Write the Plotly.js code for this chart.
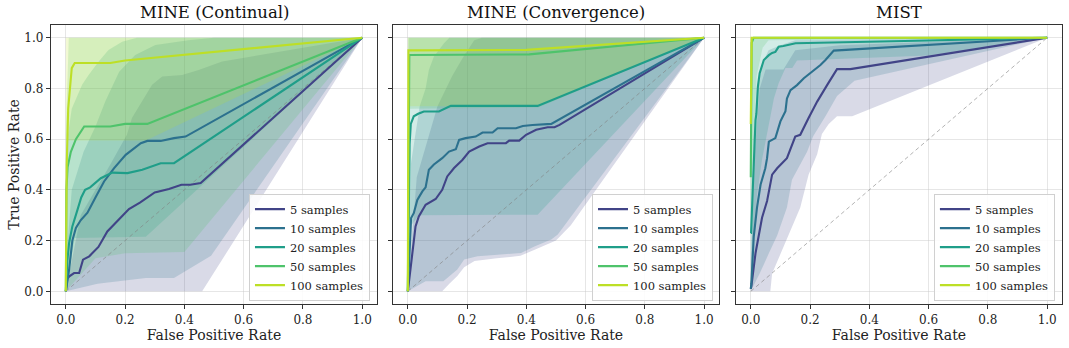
<!DOCTYPE html>
<html>
<head>
<meta charset="utf-8">
<script src="https://cdn.plot.ly/plotly-3.0.1.min.js"></script>
<style>html,body{margin:0;padding:0;background:#fff;}#chart{width:1069px;height:348px;}</style>
</head>
<body>
<div id="chart"></div>
<script>
// ---------------- DATA ----------------
const PANEL_TITLES = ['MINE (Continual)', 'MINE (Convergence)', 'MIST'];
const SERIES_NAMES = ['5 samples', '10 samples', '20 samples', '50 samples', '100 samples'];
const SERIES_COLORS = ['#414487', '#2c718e', '#1f9e89', '#4ec36b', '#bddf26'];
const TICK_VALUES = [0, 0.2, 0.4, 0.6, 0.8, 1.0];
const TICK_LABELS = ['0.0', '0.2', '0.4', '0.6', '0.8', '1.0'];
const CHANCE_FPR = [0, 1];
const CHANCE_TPR = [0, 1];

// Each array: [fpr values], [tpr values]
// ---- MINE (Continual)
const cont5Line = [[0,0.005,0.013,0.028,0.045,0.058,0.079,0.11,0.14,0.174,0.213,0.25,0.30,0.348,0.39,0.42,0.455,1],
                   [0,0.05,0.06,0.072,0.072,0.125,0.138,0.175,0.236,0.276,0.324,0.35,0.39,0.403,0.42,0.42,0.427,1]];
const cont5Hi = [[0,0.05,0.15,0.206,0.223,0.257,0.291,0.325,0.392,0.448,0.527,1],[0,0.3,0.5,0.617,0.683,0.748,0.814,0.847,0.853,0.873,0.906,1]];
const cont5Lo = [[0,0.46,1],[0,0,1]];
const cont10Line = [[0,0.005,0.011,0.022,0.034,0.05,0.073,0.10,0.129,0.163,0.202,0.253,0.275,0.32,0.365,0.404,1],
                    [0,0.04,0.085,0.2,0.25,0.28,0.31,0.37,0.433,0.486,0.538,0.584,0.593,0.593,0.604,0.61,1]];
const cont10Hi = [[0,0.02,0.06,0.1,0.133,0.18,0.234,0.302,0.413,0.5,1],[0.1,0.4,0.55,0.65,0.748,0.866,0.932,0.971,0.99,1,1]];
const cont10Lo = [[0,0.107,0.27,0.365,0.49,1],[0,0.03,0.053,0.053,0.14,1]];
const cont20Line = [[0,0.005,0.011,0.022,0.039,0.052,0.065,0.082,0.118,0.157,0.208,0.258,0.32,0.365,1],
                    [0,0.12,0.19,0.256,0.32,0.37,0.40,0.41,0.446,0.468,0.466,0.479,0.505,0.505,1]];
const cont20Hi = [[0,0.005,0.02,0.055,0.077,0.111,0.144,0.19,0.24,1],[0.2,0.6,0.72,0.814,0.853,0.906,0.951,0.984,1,1]];
const cont20Lo = [[0,0.03,0.27,1],[0,0.21,0.215,1]];
const cont50Line = [[0,0.002,0.006,0.017,0.034,0.062,0.15,0.2,0.275,1],
                    [0,0.4,0.49,0.55,0.6,0.65,0.65,0.66,0.66,1]];
const cont50Hi = [[0,0.01,1],[0.62,1,1]];
const cont50Lo = [[0,0.1,0.2,0.4,1],[0,0.13,0.15,0.155,1]];
const cont100Line = [[0,0.003,0.008,0.02,0.03,0.15,0.2,1],
                     [0,0.5,0.72,0.88,0.9,0.9,0.91,1]];
const cont100Hi = [[0,1],[1,1]];
const cont100Lo = [[0,0.01,0.27,1],[0.6,0.595,0.595,1]];

// ---- MINE (Convergence)
const conv5Line = [[0,0.015,0.026,0.037,0.06,0.094,0.116,0.133,0.156,0.184,0.207,0.241,0.269,0.331,0.342,0.376,0.399,0.433,0.472,0.495,0.512,1],
                   [0,0.151,0.256,0.295,0.341,0.364,0.4,0.453,0.486,0.518,0.551,0.571,0.584,0.584,0.594,0.594,0.617,0.637,0.647,0.647,0.656,1]];
const conv5Hi = [[0,0.03,0.1,0.15,0.19,0.224,0.25,1],[0,0.45,0.73,0.85,0.93,0.99,1,1]];
const conv5Lo = [[0,0.116,0.14,0.167,0.19,0.225,0.3,0.38,0.43,0.5,0.55,1],[0,0,0.03,0.06,0.095,0.12,0.13,0.14,0.165,0.2,0.26,1]];
const conv10Line = [[0,0.011,0.02,0.032,0.049,0.06,0.071,0.088,0.116,0.139,0.162,0.173,0.195,0.229,0.252,0.286,0.303,0.365,0.388,0.421,0.484,1],
                    [0,0.289,0.308,0.36,0.394,0.41,0.479,0.50,0.525,0.551,0.56,0.597,0.604,0.61,0.626,0.626,0.643,0.643,0.652,0.656,0.66,1]];
const conv10Hi = [[0,0.01,0.04,0.06,0.071,0.088,0.122,0.14,1],[0,0.5,0.73,0.8,0.873,0.926,0.978,1,1]];
const conv10Lo = [[0,0.06,0.12,0.167,0.19,0.235,0.291,0.382,0.427,0.484,0.506,1],[0,0.04,0.04,0.086,0.125,0.138,0.144,0.151,0.177,0.204,0.224,1]];
const conv20Line = [[0,0.003,0.006,0.01,0.02,0.035,0.054,0.105,0.128,0.145,0.438,1],
                    [0,0.45,0.58,0.66,0.69,0.70,0.709,0.709,0.722,0.731,0.731,1]];
const conv20Hi = [[0,0.003,1],[0.73,1,1]];
const conv20Lo = [[0,0.005,0.037,0.438,1],[0,0.25,0.30,0.302,1]];
const conv50Line = [[0,0.005,0.41,1],[0,0.932,0.934,1]];
const conv50Hi = [[0,1],[1,1]];
const conv50Lo = [[0,0.002,0.44,1],[0,0.72,0.725,1]];
const conv100Line = [[0,0.002,0.4,1],[0,0.95,0.952,1]];
const conv100Hi = [[0,1],[1,1]];
const conv100Lo = [[0,0.44,1],[0.73,0.73,1]];

// ---- MIST
const mist5Line = [[0,0.002,0.016,0.024,0.038,0.055,0.072,0.089,0.122,0.15,0.167,0.195,0.224,0.258,0.291,0.336,1],
                   [0.01,0.02,0.15,0.2,0.29,0.356,0.46,0.485,0.525,0.61,0.617,0.683,0.748,0.814,0.876,0.876,1]];
const mist5Hi = [[0,0.01,0.03,0.05,0.11,0.15,0.3,1],[0.02,0.5,0.8,0.875,0.875,0.95,0.97,1]];
const mist5Lo = [[0,0.066,0.072,0.089,0.122,0.167,0.195,0.224,0.24,0.263,0.291,0.342,1],[0,0,0.07,0.12,0.21,0.33,0.46,0.54,0.62,0.66,0.69,0.69,1]];
const mist10Line = [[0,0.002,0.01,0.021,0.033,0.049,0.055,0.061,0.083,0.1,0.117,0.122,0.134,0.156,0.179,0.201,0.235,0.252,0.28,1],
                    [0.01,0.03,0.215,0.33,0.42,0.485,0.525,0.59,0.604,0.67,0.71,0.76,0.793,0.813,0.84,0.86,0.892,0.912,0.949,1]];
const mist10Hi = [[0,0.01,0.02,0.04,0.06,0.1,0.15,1],[0.1,0.6,0.8,0.9,0.95,0.97,0.99,1]];
const mist10Lo = [[0,0.03,0.061,0.089,0.122,0.139,0.162,0.19,0.21,0.252,0.291,0.35,1],[0,0.07,0.15,0.22,0.33,0.44,0.49,0.55,0.61,0.69,0.77,0.83,1]];
const mist20Line = [[0,0.001,0.005,0.01,0.016,0.019,0.024,0.03,0.044,0.061,0.072,0.083,0.094,0.11,0.145,0.151,0.6,1],
                    [0.23,0.23,0.35,0.52,0.675,0.7,0.807,0.86,0.912,0.931,0.94,0.944,0.964,0.967,0.974,0.978,0.989,1]];
const mist20Hi = [[0,0.005,1],[0.5,1,1]];
const mist20Lo = [[0,0.01,0.021,0.038,0.055,0.078,0.094,0.117,0.14,0.156,0.6,1],[0,0.2,0.38,0.52,0.63,0.76,0.82,0.88,0.88,0.91,0.93,1]];
const mist50Line = [[0,0.001,0.003,0.01,1],[0.45,0.6,0.98,1,1]];
const mist50Hi = [[0,1],[1,1]];
const mist50Lo = [[0,0.01,0.02,0.04,0.06,1],[0.3,0.6,0.85,0.96,0.99,1]];
const mist100Line = [[0,0.001,0.003,1],[0.66,0.9,1,1]];
const mist100Hi = [[0,1],[1,1]];
const mist100Lo = [[0,0.002,0.01,1],[0.5,0.95,1,1]];

const PANEL_LINES = [
  [cont5Line, cont10Line, cont20Line, cont50Line, cont100Line],
  [conv5Line, conv10Line, conv20Line, conv50Line, conv100Line],
  [mist5Line, mist10Line, mist20Line, mist50Line, mist100Line]
];
const PANEL_HI = [
  [cont5Hi, cont10Hi, cont20Hi, cont50Hi, cont100Hi],
  [conv5Hi, conv10Hi, conv20Hi, conv50Hi, conv100Hi],
  [mist5Hi, mist10Hi, mist20Hi, mist50Hi, mist100Hi]
];
const PANEL_LO = [
  [cont5Lo, cont10Lo, cont20Lo, cont50Lo, cont100Lo],
  [conv5Lo, conv10Lo, conv20Lo, conv50Lo, conv100Lo],
  [mist5Lo, mist10Lo, mist20Lo, mist50Lo, mist100Lo]
];

// ---------------- BUILD ----------------
function rgba(hex, a) {
  const n = parseInt(hex.slice(1), 16);
  return 'rgba(' + ((n >> 16) & 255) + ',' + ((n >> 8) & 255) + ',' + (n & 255) + ',' + a + ')';
}
const FONT = 'DejaVu Serif, Liberation Serif, serif';
const traces = [];
const legendIds = ['legend', 'legend2', 'legend3'];

for (let p = 0; p < 3; p++) {
  const xa = p === 0 ? 'x' : 'x' + (p + 1);
  const ya = p === 0 ? 'y' : 'y' + (p + 1);
  for (let s = 0; s < 5; s++) {
    const hi = PANEL_HI[p][s], lo = PANEL_LO[p][s];
    traces.push({
      type: 'scatter', mode: 'lines', xaxis: xa, yaxis: ya,
      x: hi[0].concat(lo[0].slice().reverse()),
      y: hi[1].concat(lo[1].slice().reverse()),
      fill: 'toself', fillcolor: rgba(SERIES_COLORS[s], 0.2),
      line: {width: 0, color: 'rgba(0,0,0,0)'},
      hoverinfo: 'skip', showlegend: false
    });
  }
  traces.push({
    type: 'scatter', mode: 'lines', xaxis: xa, yaxis: ya,
    x: CHANCE_FPR, y: CHANCE_TPR,
    line: {color: 'rgba(128,128,128,0.6)', width: 1, dash: '4px,3px'},
    hoverinfo: 'skip', showlegend: false
  });
  for (let s = 0; s < 5; s++) {
    const ln = PANEL_LINES[p][s];
    traces.push({
      type: 'scatter', mode: 'lines', xaxis: xa, yaxis: ya,
      x: ln[0], y: ln[1], name: SERIES_NAMES[s],
      line: {color: SERIES_COLORS[s], width: 2.1},
      legend: legendIds[p], showlegend: true
    });
  }
}

const domains = [[0, 0.3225], [0.3383, 0.6607], [0.6775, 1]];
const legendX = [0.3155, 0.6548, 0.993];

function xAxis(p) {
  return {
    domain: domains[p], range: [-0.05, 1.05], anchor: p === 0 ? 'y' : 'y' + (p + 1),
    tickvals: TICK_VALUES, ticktext: TICK_LABELS,
    ticks: 'outside', ticklen: 4, tickwidth: 1, tickcolor: '#333',
    showline: true, mirror: true, linecolor: '#333', linewidth: 1.2,
    showgrid: true, gridcolor: 'rgba(200,200,200,0.45)', gridwidth: 1, zeroline: false,
    tickfont: {family: FONT, size: 12, color: '#222'},
    title: {text: 'False Positive Rate', font: {family: FONT, size: 14, color: '#222'}, standoff: 1}
  };
}
function yAxis(p) {
  return {
    domain: [0, 1], range: [-0.05, 1.05], anchor: p === 0 ? 'x' : 'x' + (p + 1),
    tickvals: TICK_VALUES, ticktext: TICK_LABELS, showticklabels: p === 0,
    ticks: 'outside', ticklen: 4, tickwidth: 1, tickcolor: '#333',
    showline: true, mirror: true, linecolor: '#333', linewidth: 1.2,
    showgrid: true, gridcolor: 'rgba(200,200,200,0.45)', gridwidth: 1, zeroline: false,
    tickfont: {family: FONT, size: 12, color: '#222'},
    title: p === 0 ? {text: 'True Positive Rate', font: {family: FONT, size: 14, color: '#222'}, standoff: 1} : {text: ''}
  };
}

const layout = {
  width: 1069, height: 348,
  margin: {l: 51, r: 7, t: 25, b: 44},
  paper_bgcolor: '#fff', plot_bgcolor: '#fff',
  font: {family: FONT, color: '#222'},
  showlegend: true,
  xaxis: xAxis(0), xaxis2: xAxis(1), xaxis3: xAxis(2),
  yaxis: yAxis(0), yaxis2: yAxis(1), yaxis3: yAxis(2),
  annotations: PANEL_TITLES.map((t, p) => ({
    text: t, xref: 'paper', yref: 'paper',
    x: (domains[p][0] + domains[p][1]) / 2, y: 1, yanchor: 'bottom', xanchor: 'center',
    yshift: 1, showarrow: false, font: {family: FONT, size: 16.5, color: '#111'}
  }))
};
legendIds.forEach((id, p) => {
  layout[id] = {
    x: legendX[p], xanchor: 'right', y: 0.012, yanchor: 'bottom',
    bgcolor: 'rgba(255,255,255,0.85)', bordercolor: '#d0d0d0', borderwidth: 1,
    font: {family: FONT, size: 11.5, color: '#222'}, itemwidth: 30, tracegroupgap: 0
  };
});

Plotly.newPlot('chart', traces, layout, {displayModeBar: false, staticPlot: true});
</script>
</body>
</html>
